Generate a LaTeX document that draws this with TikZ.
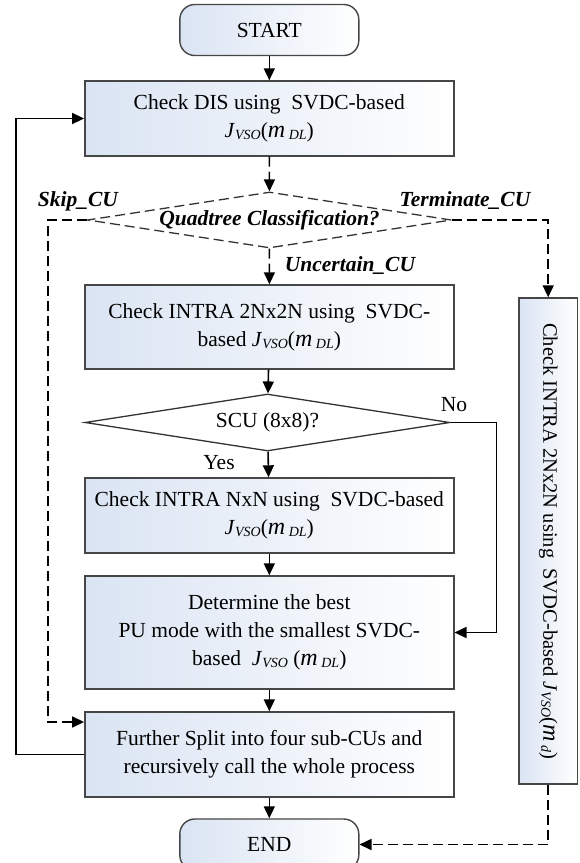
\documentclass[tikz,border=0pt]{standalone}
\usepackage{fontspec}
\setmainfont{Liberation Serif}
\usetikzlibrary{shapes.geometric,arrows.meta,calc}

% cost symbol J_VSO(m_x) with small italic subscripts
\newcommand{\subsm}[1]{\raisebox{-0.1em}{\fontsize{14}{14}\selectfont\textit{#1}}}
\newcommand{\modem}{{\fontsize{24}{24}\selectfont\textit{m}}}
\newcommand{\jvso}[1]{\textit{J}\subsm{VSO}(\modem\,\subsm{#1})}
\newcommand{\jvsosp}[1]{\textit{J}\subsm{VSO}\ (\modem\,\subsm{#1})}

\definecolor{boxblue}{RGB}{218,228,243}
\definecolor{boxline}{RGB}{70,70,70}

\begin{document}
\begin{tikzpicture}[x=1pt,y=-1pt,
  font=\fontsize{21.5}{28}\selectfont,
  box/.style={draw=boxline, line width=1.4pt, left color=boxblue, right color=white,
    minimum width=369pt, align=center, inner sep=2pt},
  term/.style={box, rounded corners=15pt, minimum width=179pt, minimum height=51pt},
  dec/.style={diamond, draw=black!80, line width=1.3pt, inner sep=0pt, aspect=6.5},
  arr/.style={line width=1.6pt, -{Triangle[length=12pt,width=11pt]}},
  dsh/.style={dash pattern=on 10pt off 5pt},
  lbl/.style={font=\fontsize{21.5}{25}\selectfont\bfseries\itshape, inner sep=0pt},
  plain/.style={font=\fontsize{21.5}{25}\selectfont, inner sep=0pt}]

\useasboundingbox (0,0) rectangle (579,863);

% main column
\node[term] (start) at (269.3,30) {START};
\node[box, minimum height=75pt] (box1) at (269.3,118.5)
  {Check DIS using\ \ SVDC-based\\ \jvso{DL}};
\node[dec, dsh, minimum width=364pt, minimum height=56pt] (d1) at (269.5,220)
  {\bfseries\itshape Quadtree Classification?};
\node[box, minimum height=84pt] (box2) at (269.3,327)
  {Check INTRA 2Nx2N using\ \ SVDC-\\ based \jvso{DL}};
\node[dec, minimum width=365pt, minimum height=57pt] (d2) at (267.5,422.5)
  {SCU (8x8)?};
\node[box, minimum height=75pt] (box3) at (269.3,515.5)
  {Check INTRA NxN using\ \ SVDC-based\\ \jvso{DL}};
\node[box, minimum height=113pt] (box4) at (269.3,632.5)
  {Determine the best\\ PU mode with the smallest SVDC-\\ based\ \ \jvsosp{DL}};
\node[box, minimum height=85pt] (box5) at (269.3,754.5)
  {Further Split into four sub-CUs and\\ recursively call the whole process};
\node[term] (end) at (269.3,844.5) {END};

% terminate branch (vertical box)
\node[box, rotate=-90, minimum width=486pt, minimum height=58.7pt, inner sep=0pt,
  font=\fontsize{20.5}{25}\selectfont]
  (box7) at (548.2,541)
  {Check INTRA 2Nx2N using\ \ SVDC-based \jvso{d}};

% labels
\node[lbl] (skip) at (78,201) {Skip\_CU};
\node[lbl] (term) at (465,201) {Terminate\_CU};
\node[lbl] (unc) at (350,266) {Uncertain\_CU};
\node[plain] (yes) at (219,463) {Yes};
\node[plain] (no) at (454,405) {No};

% connectors
\draw[arr] (start) -- (box1);
\draw[arr,dsh] (box1) -- (d1);
\draw[arr,dsh] (d1) -- (box2);
\draw[arr,dsh] (d1.west) -- ++(-39,0) |- ([yshift=32.5pt]box5.west);
\draw[arr,dsh] (d1.east) -| (box7.west);
\draw[arr] (box2) -- (d2);
\draw[arr] (d2) -- (box3);
\draw[arr] (d2.east) -- ++(45.7,0) |- (box4.east);
\draw[arr] (box3) -- (box4);
\draw[arr] (box4) -- (box5);
\draw[arr] (box5.west) -- ++(-68,0) |- (box1.west);
\draw[arr] (box5) -- (end);
\draw[arr,dsh] (box7.east) |- (end.east);
\end{tikzpicture}
\end{document}
